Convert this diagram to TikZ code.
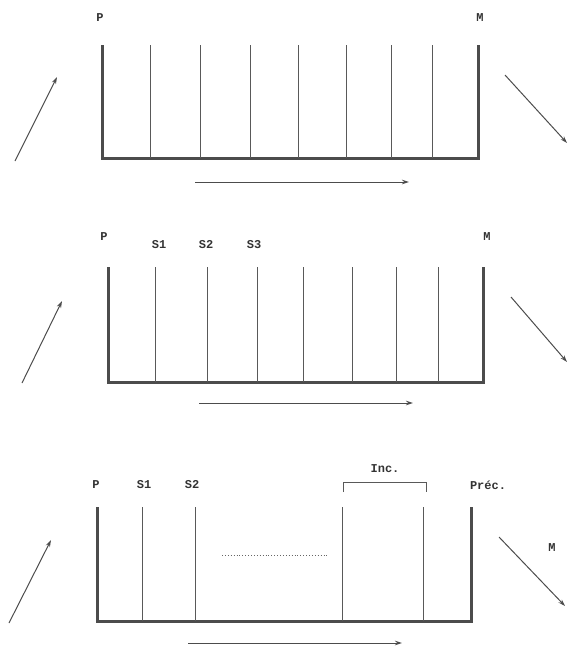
\documentclass[tikz,border=0pt]{standalone}
\usepackage{fontspec}
\setmonofont{Liberation Mono}
\usetikzlibrary{arrows.meta}

\begin{document}
\begin{tikzpicture}[x=1pt, y=-1pt,
      wall/.style={line width=3pt, draw=black!70, line join=miter},
      plate/.style={line width=0.9pt, draw=black!65},
      arr/.style={-{Stealth[length=7pt, width=4.5pt]}, line width=1pt, black!70},
      lbl/.style={font=\ttfamily\bfseries\fontsize{12}{14}\selectfont, text=black!80, inner sep=1pt}]
    \useasboundingbox (0,0) rectangle (567,651);

    % first tank
    \node[lbl] (pa) at (100,18) {P};
    \node[lbl] (ma) at (480,18) {M};
    \draw[wall] (102,45) -- (102,158) -- (478,158) -- (478,45);
    \foreach \x in {150,200,250,298,346,391,432}
      \draw[plate] (\x,45) -- (\x,158);
    \coordinate (fa1) at (195,182);
    \coordinate (fa2) at (409,182);
    \draw[arr] (fa1) -- (fa2);
    \coordinate (ia1) at (15,161);
    \coordinate (ia2) at (57,77);
    \draw[arr] (ia1) -- (ia2);
    \coordinate (oa1) at (505,75);
    \coordinate (oa2) at (567,143);
    \draw[arr] (oa1) -- (oa2);

    % second tank
    \node[lbl] (pb) at (104,237) {P};
    \node[lbl] (sb1) at (159,245) {S1};
    \node[lbl] (sb2) at (206,245) {S2};
    \node[lbl] (sb3) at (254,245) {S3};
    \node[lbl] (mb) at (487,237) {M};
    \draw[wall] (108,267) -- (108,382) -- (483,382) -- (483,267);
    \foreach \x in {155,207,257,303,352,396,438}
      \draw[plate] (\x,267) -- (\x,382);
    \coordinate (fb1) at (199,403);
    \coordinate (fb2) at (413,403);
    \draw[arr] (fb1) -- (fb2);
    \coordinate (ib1) at (22,383);
    \coordinate (ib2) at (62,301);
    \draw[arr] (ib1) -- (ib2);
    \coordinate (ob1) at (511,297);
    \coordinate (ob2) at (567,362);
    \draw[arr] (ob1) -- (ob2);

    % third tank
    \node[lbl] (pc) at (96,485) {P};
    \node[lbl] (sc1) at (144,485) {S1};
    \node[lbl] (sc2) at (192,485) {S2};
    \node[lbl] (inc) at (385,469) {Inc.};
    \node[lbl] (prec) at (488,485) {Préc.};
    \node[lbl] (mc) at (552,548) {M};
    \draw[wall] (97,507) -- (97,621) -- (471,621) -- (471,507);
    \foreach \x in {142,195,342,423}
      \draw[plate] (\x,507) -- (\x,621);
    \draw[plate, line width=0.8pt] (343,492) -- (343,482) -- (426,482) -- (426,492);
    \coordinate (da) at (222,555);
    \coordinate (db) at (327,555);
    \draw[black!60, line width=0.9pt, dotted] (da) -- (db);
    \coordinate (fc1) at (188,643);
    \coordinate (fc2) at (402,643);
    \draw[arr] (fc1) -- (fc2);
    \coordinate (ic1) at (9,623);
    \coordinate (ic2) at (51,540);
    \draw[arr] (ic1) -- (ic2);
    \coordinate (oc1) at (499,537);
    \coordinate (oc2) at (565,606);
    \draw[arr] (oc1) -- (oc2);
  \end{tikzpicture}
\end{document}
